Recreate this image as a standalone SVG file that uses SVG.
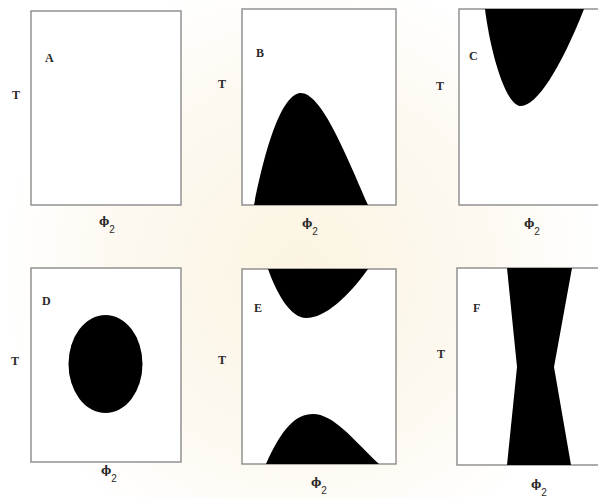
<svg xmlns="http://www.w3.org/2000/svg" width="598" height="498" viewBox="0 0 598 498">
<defs>
<radialGradient id="wm" cx="300" cy="270" r="300" gradientUnits="userSpaceOnUse">
<stop offset="0" stop-color="#fbf4e2"/>
<stop offset="0.6" stop-color="#fdf9f0"/>
<stop offset="1" stop-color="#ffffff"/>
</radialGradient>
<style>
.box{fill:#ffffff;stroke:#8a8a8a;stroke-width:1.4}
.reg{fill:#000000;stroke:none}
.lbl{font-family:"Liberation Serif","DejaVu Serif",serif;font-size:12px;fill:#2a2a2a;font-weight:bold}
.ax{font-family:"DejaVu Serif","Liberation Serif",serif;font-size:11px;fill:#2a2a2a;font-weight:bold}
.sub{font-family:"Liberation Sans",sans-serif;font-weight:normal;font-size:10px}
</style>
</defs>
<rect width="598" height="498" fill="url(#wm)"/>
<g id="panelA">
<rect class="box" x="31" y="11" width="150" height="194"/>
<text class="lbl" x="45" y="62">A</text>
<text class="lbl" x="12" y="99">T</text>
<text class="ax" x="99" y="225">ϕ<tspan class="sub" dy="8">2</tspan></text>
</g>
<g id="panelB">
<rect class="box" x="242" y="9" width="154" height="196"/>
<path class="reg" d="M254,205 C262,165 278,96 300,93 C320,92 342,145 368,205 Z"/>
<text class="lbl" x="256" y="57">B</text>
<text class="lbl" x="218" y="88">T</text>
<text class="ax" x="302" y="227">ϕ<tspan class="sub" dy="8">2</tspan></text>
</g>
<g id="panelC">
<rect class="box" x="459" y="9" width="145" height="196"/>
<path class="reg" d="M485,9 C490,50 505,106 521,106 C536,106 560,70 584,9 Z"/>
<text class="lbl" x="469" y="60">C</text>
<text class="lbl" x="436" y="90">T</text>
<text class="ax" x="524" y="227">ϕ<tspan class="sub" dy="8">2</tspan></text>
</g>
<g id="panelD">
<rect class="box" x="31" y="268" width="150" height="194"/>
<ellipse class="reg" cx="105.5" cy="364" rx="37" ry="49"/>
<text class="lbl" x="42" y="305">D</text>
<text class="lbl" x="11" y="365">T</text>
<text class="ax" x="101" y="474">ϕ<tspan class="sub" dy="8">2</tspan></text>
</g>
<g id="panelE">
<rect class="box" x="242" y="269" width="154" height="195"/>
<path class="reg" d="M268,269 C276,292 290,318 306,318 C325,318 348,297 368,269 Z"/>
<path class="reg" d="M266,464 C282,428 296,414 313,414 C333,414 352,438 379,464 Z"/>
<text class="lbl" x="254" y="312">E</text>
<text class="lbl" x="218" y="364">T</text>
<text class="ax" x="311" y="486">ϕ<tspan class="sub" dy="8">2</tspan></text>
</g>
<g id="panelF">
<rect class="box" x="457" y="268" width="147" height="197"/>
<polygon class="reg" points="507,268 572,268 554,367 571,465 507,465 517,367"/>
<text class="lbl" x="473" y="312">F</text>
<text class="lbl" x="437" y="358">T</text>
<text class="ax" x="531" y="488">ϕ<tspan class="sub" dy="8">2</tspan></text>
</g>
</svg>
